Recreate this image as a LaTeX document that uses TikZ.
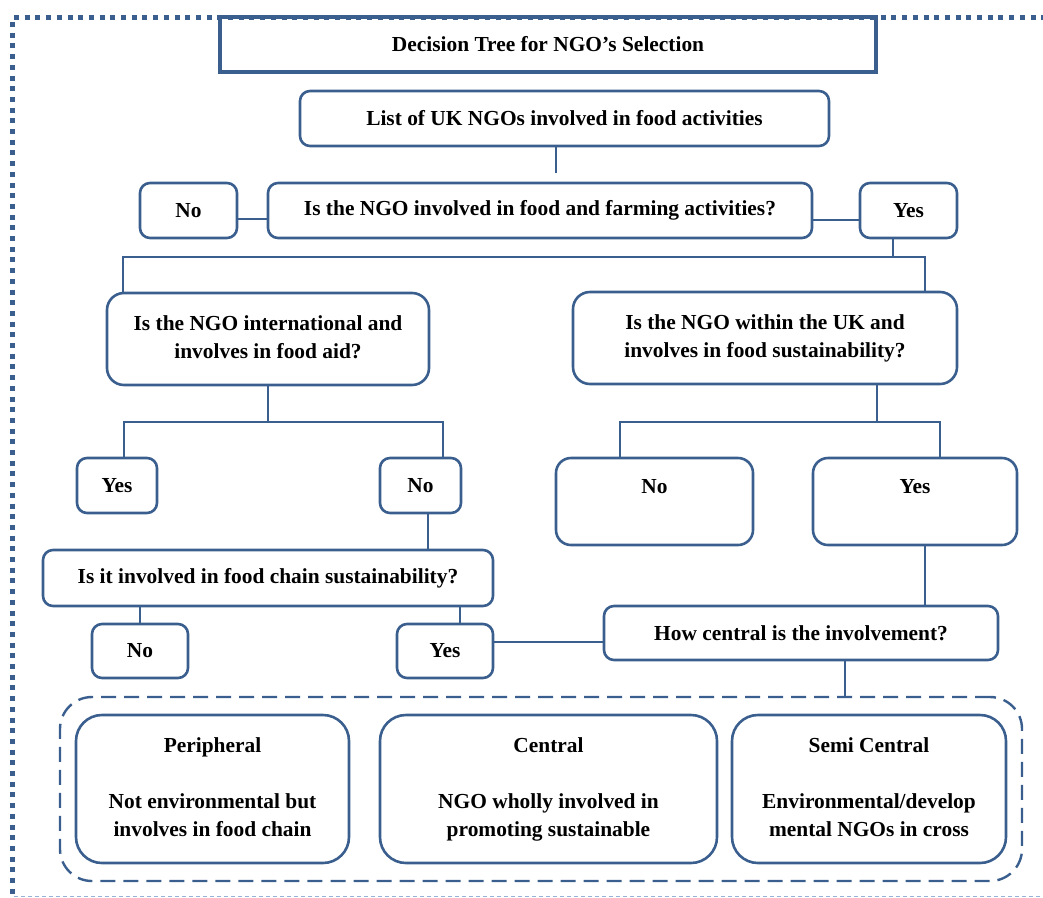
\documentclass[tikz,border=0pt]{standalone}
\usepackage{fontspec}
\setmainfont{Liberation Serif}
\usetikzlibrary{calc}

\definecolor{ngoblue}{RGB}{58,95,142}
\definecolor{ngolight}{RGB}{150,178,214}

\tikzset{
  box/.style={draw=ngoblue, line width=2.6pt, rounded corners=#1, align=center,
              inner sep=0pt, font=\fontsize{21.4}{28}\selectfont\bfseries},
  box/.default=10pt,
  conn/.style={draw=ngoblue, line width=2.5pt},
}

\begin{document}
\begin{tikzpicture}[x=1pt, y=-1pt]
\useasboundingbox (0,0) rectangle (1043,897);

% page frame
\draw[ngoblue, line width=5pt, dash pattern=on 5pt off 5.7pt] (14,17) -- (1043,17);
\draw[ngoblue, line width=5pt, dash pattern=on 5pt off 5.7pt] (12.5,22) -- (12.5,897);
\draw[ngolight, line width=1pt, dash pattern=on 4pt off 3pt] (14,896) -- (1043,896);

% heading
\node[box=0pt, line width=3.6pt, sharp corners, minimum width=656pt, minimum height=55pt]
  (title) at (548,44.5) {Decision Tree for NGO’s Selection};

% first level
\node[box, minimum width=529pt, minimum height=55pt] (A) at (564.5,118.5)
  {List of UK NGOs involved in food activities};
\node[box, minimum width=544pt, minimum height=55pt] (B) at (540,210.5)
  {Is the NGO involved in food and farming activities?};
\node[box, minimum width=97pt, minimum height=55pt] (noB) at (188.5,210.5) {No};
\node[box, minimum width=97pt, minimum height=55pt] (yesB) at (908.5,210.5) {Yes};

% second level
\node[box=17pt, minimum width=322pt, minimum height=92pt] (C1) at (268,339)
  {\strut Is the NGO international and\\ involves in food aid?\strut};
\node[box=17pt, minimum width=384pt, minimum height=92pt] (C2) at (765,338)
  {\strut Is the NGO within the UK and\\ involves in food sustainability?\strut};

% answers to the second level
\node[box, minimum width=80pt, minimum height=55pt] (yes1) at (117,485.5) {Yes};
\node[box, minimum width=81pt, minimum height=55pt] (no1) at (420.5,485.5) {No};
\node[box=15pt, minimum width=197pt, minimum height=87pt] (no2) at (654.5,501.5) {\strut No\\\strut};
\node[box=15pt, minimum width=204pt, minimum height=87pt] (yes2) at (915,501.5) {\strut Yes\\\strut};

% food chain question
\node[box, minimum width=450pt, minimum height=56pt] (D) at (268,578)
  {Is it involved in food chain sustainability?};
\node[box, minimum width=96pt, minimum height=54pt] (noD) at (140,651) {No};
\node[box, minimum width=96pt, minimum height=54pt] (yesD) at (445,651) {Yes};

\node[box, minimum width=394pt, minimum height=54pt] (HC) at (801,633)
  {How central is the involvement?};

% outcome group
\node[draw=ngoblue, line width=2.4pt, rounded corners=32pt, dash pattern=on 15pt off 8pt,
      minimum width=962pt, minimum height=184pt, inner sep=0pt] (group) at (541,789) {};
\node[box=26pt, minimum width=273pt, minimum height=148pt] (P) at (212.5,789)
  {\strut Peripheral\\\strut\\Not environmental but\\involves in food chain\strut};
\node[box=26pt, minimum width=337pt, minimum height=148pt] (Cn) at (548.5,789)
  {\strut Central\\\strut\\NGO wholly involved in\\promoting sustainable\strut};
\node[box=26pt, minimum width=274pt, minimum height=148pt] (SC) at (869,789)
  {\strut Semi Central\\\strut\\Environmental/develop\\mental NGOs in cross\strut};

% connectors
\coordinate (aEnd) at (556,173);
\draw[conn] (A.south -| aEnd) -- (aEnd);
\draw[conn] (noB.east |- 0,219) -- (B.west |- 0,219);
\draw[conn] (B.east |- 0,220) -- (yesB.west |- 0,220);

\draw[conn] (yesB.south -| 893,0) -- (893,257);
\draw[conn] (C1.north -| 123,0) -- (123,257) -- (925,257) -- (C2.north -| 925,0);

\draw[conn] (C1.south) -- (268,422);
\draw[conn] (yes1.north -| 124,0) -- (124,422) -- (443,422) -- (no1.north -| 443,0);

\draw[conn] (C2.south -| 877,0) -- (877,422);
\draw[conn] (no2.north -| 620,0) -- (620,422) -- (940,422) -- (yes2.north -| 940,0);

\draw[conn] (yes2.south -| 925,0) -- (HC.north -| 925,0);
\draw[conn] (no1.south -| 428,0) -- (D.north -| 428,0);
\draw[conn] (D.south -| 140,0) -- (noD.north);
\draw[conn] (D.south -| 460,0) -- (yesD.north -| 460,0);
\draw[conn] (yesD.east |- 0,642) -- (HC.west |- 0,642);
\draw[conn] (HC.south -| 845,0) -- (group.north -| 845,0);
\end{tikzpicture}
\end{document}
